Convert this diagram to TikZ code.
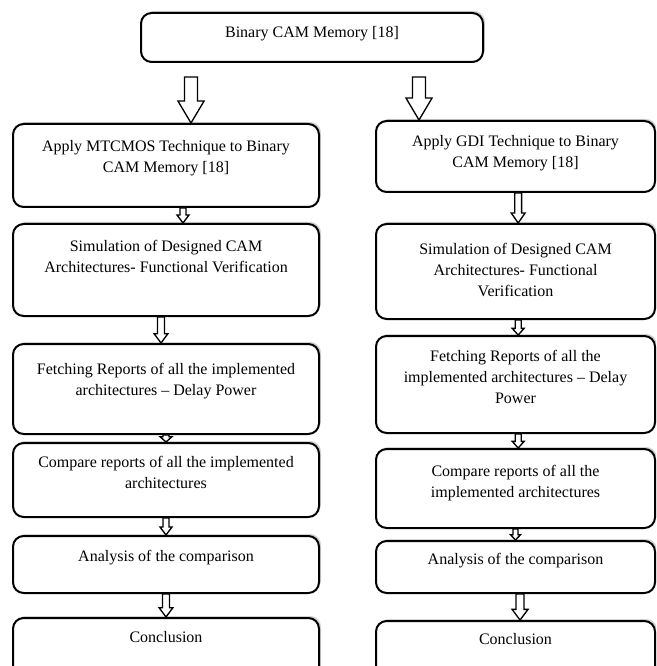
\documentclass[tikz,border=0pt]{standalone}
\usepackage{fontspec}
\setmainfont{Liberation Serif}
\usetikzlibrary{calc,shadows}
\begin{document}
\begin{tikzpicture}[x=0.75pt,y=-0.75pt,
    box/.style={draw,line width=1.5pt,rounded corners=8pt,fill=white,anchor=north west,
      drop shadow={shadow xshift=1.5pt,shadow yshift=1.5pt,opacity=0.35}},
    lbox/.style={box,minimum width=229.5pt},
    rbox/.style={box,minimum width=209.25pt},
    txt/.style={anchor=north,align=center,inner sep=0pt,font=\fontsize{12}{15.5}\selectfont},
    arr/.style 2 args={draw,line width=1pt,fill=white,
      to path={let \p1=(\tikztostart),\p2=(\tikztotarget) in
        (\x1-#1,\y1) -- (\x1-#1,\y2+#2) -- (\x1-2*#1,\y2+#2) -- (\x1,\y2)
        -- (\x1+2*#1,\y2+#2) -- (\x1+#1,\y2+#2) -- (\x1+#1,\y1) -- cycle}}]
    \clip (0,0) rectangle (656,666);
    % top box
    \node[box,minimum width=256.5pt,minimum height=36.75pt] (top) at (140,12) {};
    \node[txt] (topt) at ([yshift=-10.7pt]top.north) {Binary CAM Memory [18]};
    % left column (MTCMOS)
    \node[lbox,minimum height=62.25pt] (l1) at (12,123) {};
    \node[lbox,minimum height=69pt] (l2) at (12,223) {};
    \node[lbox,minimum height=67.5pt] (l3) at (12,343) {};
    \node[lbox,minimum height=55.5pt] (l4) at (12,442) {};
    \node[lbox,minimum height=42.75pt] (l5) at (12,535) {};
    \node[lbox,minimum height=55pt] (l6) at (12,617) {};
    \node[txt] (l1t) at ([yshift=-13pt]l1.north) {Apply MTCMOS Technique to Binary\\CAM Memory [18]};
    \node[txt] (l2t) at ([yshift=-13pt]l2.north) {Simulation of Designed CAM\\Architectures- Functional Verification};
    \node[txt] (l3t) at ([yshift=-15.2pt]l3.north) {Fetching Reports of all the implemented\\architectures -- Delay Power};
    \node[txt] (l4t) at ([yshift=-10.7pt]l4.north) {Compare reports of all the implemented\\architectures};
    \node[txt] (l5t) at ([yshift=-11.5pt]l5.north) {Analysis of the comparison};
    \node[txt] (l6t) at ([yshift=-10.7pt]l6.north) {Conclusion};
    % right column (GDI)
    \node[rbox,minimum height=53.25pt] (r1) at (375,120) {};
    \node[rbox,minimum height=71.25pt] (r2) at (375,223) {};
    \node[rbox,minimum height=72.75pt] (r3) at (375,335) {};
    \node[rbox,minimum height=59.25pt] (r4) at (375,448) {};
    \node[rbox,minimum height=39pt] (r5) at (375,540) {};
    \node[rbox,minimum height=55pt] (r6) at (375,620) {};
    \node[txt] (r1t) at ([yshift=-11.5pt]r1.north) {Apply GDI Technique to Binary\\CAM Memory [18]};
    \node[txt] (r2t) at ([yshift=-15.2pt]r2.north) {Simulation of Designed CAM\\Architectures- Functional\\Verification};
    \node[txt] (r3t) at ([yshift=-11.5pt]r3.north) {Fetching Reports of all the\\implemented architectures -- Delay\\Power};
    \node[txt] (r4t) at ([yshift=-13pt]r4.north) {Compare reports of all the\\implemented architectures};
    \node[txt] (r5t) at ([yshift=-10pt]r5.north) {Analysis of the comparison};
    \node[txt] (r6t) at ([yshift=-10pt]r6.north) {Conclusion};
    % block arrows
    \draw[arr={4.9pt}{16.5pt}] ([xshift=-90.75pt,yshift=-10.5pt]top.south) to (l1.north);
    \draw[arr={4.9pt}{16.5pt}] ([xshift=80.25pt,yshift=-10.5pt]top.south) to (r1.north);
    \draw[arr={2.25pt}{6pt}] ([xshift=12.75pt]l1.south) to (l2.north);
    \draw[arr={2.6pt}{7pt}] ([xshift=-3.75pt]l2.south) to (l3.north);
    \draw[arr={2.25pt}{4pt}] (l3.south) to (l4.north);
    \draw[arr={2.25pt}{6pt}] (l4.south) to (l5.north);
    \draw[arr={2.6pt}{7pt}] (l5.south) to (l6.north);
    \draw[arr={2.6pt}{7.5pt}] ([xshift=2pt]r1.south) to (r2.north);
    \draw[arr={2.25pt}{5pt}] ([xshift=2pt]r2.south) to (r3.north);
    \draw[arr={2.25pt}{5pt}] ([xshift=2pt]r3.south) to (r4.north);
    \draw[arr={1.9pt}{4pt}] (r4.south) to (r5.north);
    \draw[arr={3pt}{8pt}] ([xshift=3.4pt]r5.south) to (r6.north);
\end{tikzpicture}
\end{document}
